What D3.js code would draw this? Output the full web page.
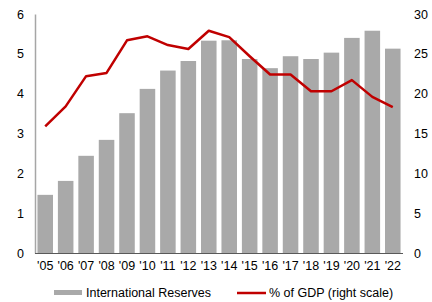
<!DOCTYPE html>
<html>
<head>
<meta charset="utf-8">
<script src="https://cdn.jsdelivr.net/npm/d3@7"></script>
<style>
  body { margin: 0; background: #fff; }
  text { font-family: "Liberation Sans", Arial, sans-serif; }
</style>
</head>
<body>
<div id="chart"></div>
<script>
const years = ["'05","'06","'07","'08","'09","'10","'11","'12","'13","'14","'15","'16","'17","'18","'19","'20","'21","'22"];
const reserves = [1.46, 1.81, 2.44, 2.84, 3.51, 4.12, 4.58, 4.82, 5.33, 5.34, 4.87, 4.64, 4.94, 4.87, 5.03, 5.40, 5.58, 5.13];
const pctGdp = [15.9, 18.4, 22.2, 22.6, 26.7, 27.2, 26.1, 25.6, 27.9, 27.1, 24.7, 22.4, 22.4, 20.3, 20.3, 21.7, 19.6, 18.3];
const leftTicks = [0, 1, 2, 3, 4, 5, 6];
const rightTicks = [0, 5, 10, 15, 20, 25, 30];

const width = 432, height = 302;
const plot = {left: 35, right: 403, top: 14, bottom: 253};
const fs = "12.5px";

const svg = d3.select("#chart")
    .append("svg")
    .attr("width", width)
    .attr("height", height);

const x = d3.scaleBand().domain(years).range([plot.left, plot.right]).paddingInner(0.24).paddingOuter(0.12);
const yL = d3.scaleLinear().domain([0, 6]).range([plot.bottom, plot.top]);
const yR = d3.scaleLinear().domain([0, 30]).range([plot.bottom, plot.top]);

// bars
svg.append("g")
    .selectAll("rect")
    .data(reserves)
    .join("rect")
    .attr("x", (d, i) => x(years[i]))
    .attr("y", d => yL(d))
    .attr("width", x.bandwidth())
    .attr("height", d => plot.bottom - yL(d))
    .attr("fill", "#a9a9a9");

// left axis
const axL = svg.append("g")
    .attr("transform", `translate(${plot.left},0)`)
    .call(d3.axisLeft(yL).tickValues(leftTicks).tickFormat(d3.format("d")).tickSize(0).tickPadding(11));
axL.select(".domain").attr("stroke", "#a6a6a6").attr("stroke-width", 1.5);
axL.selectAll("text").style("font-size", fs).attr("fill", "#000");

// right axis (labels only)
const axR = svg.append("g")
    .attr("transform", `translate(${plot.right},0)`)
    .call(d3.axisRight(yR).tickValues(rightTicks).tickSize(0).tickPadding(11));
axR.select(".domain").remove();
axR.selectAll("text").style("font-size", fs).attr("fill", "#000");

// bottom axis
const axB = svg.append("g")
    .attr("transform", `translate(0,${plot.bottom})`)
    .call(d3.axisBottom(x).tickSize(0).tickPadding(8));
axB.select(".domain").attr("stroke", "#595959").attr("stroke-width", 1).attr("d", `M${plot.left},0.5H${plot.right}`);
axB.selectAll("text").style("font-size", fs).attr("fill", "#000");

// line
const line = d3.line()
    .x((d, i) => x(years[i]) + x.bandwidth() / 2)
    .y(d => yR(d));
svg.append("path")
    .datum(pctGdp)
    .attr("d", line)
    .attr("fill", "none")
    .attr("stroke", "#c00000")
    .attr("stroke-width", 2.5)
    .attr("stroke-linejoin", "round");

// legend
const lg = svg.append("g");
lg.append("rect").attr("x", 54).attr("y", 290).attr("width", 28).attr("height", 5).attr("fill", "#a9a9a9");
lg.append("text").attr("x", 86).attr("y", 297).style("font-size", fs).text("International Reserves");
lg.append("line").attr("x1", 237).attr("x2", 266).attr("y1", 293).attr("y2", 293)
    .attr("stroke", "#c00000").attr("stroke-width", 2.5);
lg.append("text").attr("x", 269).attr("y", 297).style("font-size", fs).text("% of GDP (right scale)");
</script>
</body>
</html>
